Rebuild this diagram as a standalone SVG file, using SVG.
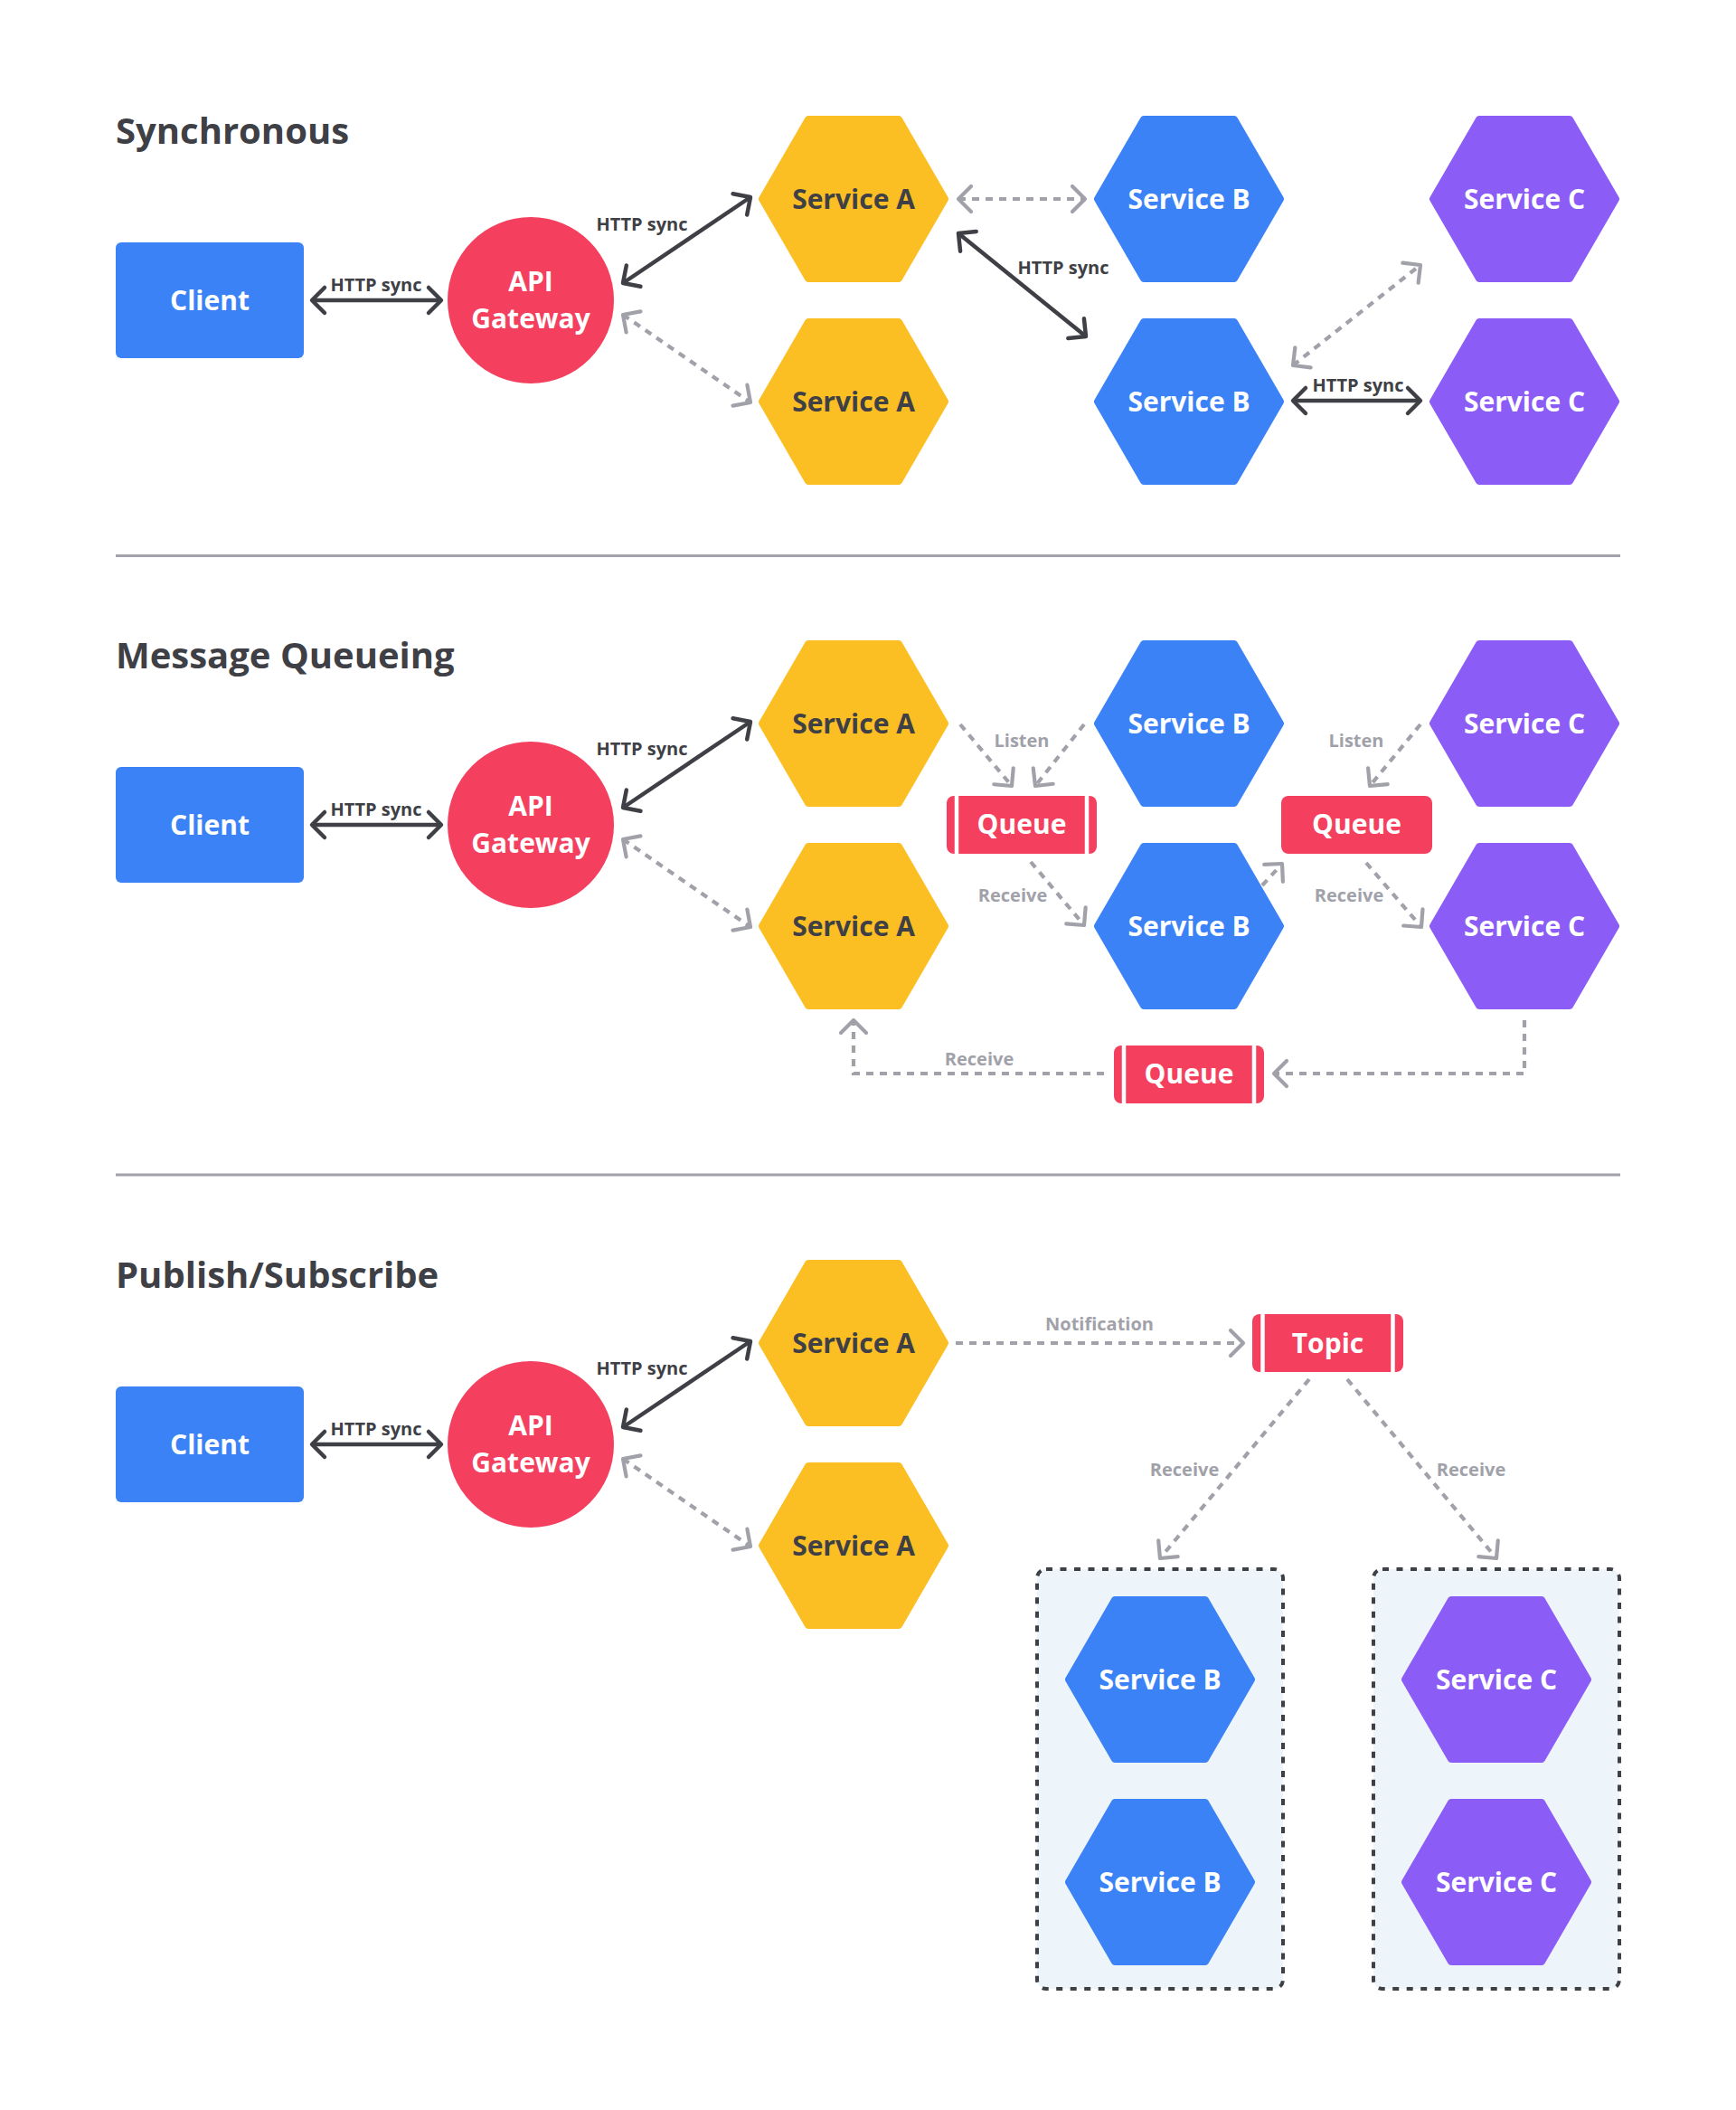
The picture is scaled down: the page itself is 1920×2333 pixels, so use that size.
<svg xmlns="http://www.w3.org/2000/svg" xmlns:xlink="http://www.w3.org/1999/xlink" width="1920" height="2333" viewBox="0 0 1920 2333">
<style>
.t{font-family:"Open Sans","Noto Sans","Liberation Sans",sans-serif;font-weight:700}
.title{font-size:40px;fill:#3f3f46}
.nl{font-size:30px;fill:#ffffff;text-anchor:middle}
.nd{fill:#3f3f46}
.lbl{font-size:20px;text-anchor:middle}
.ld{fill:#3f3f46}
.lg{fill:#a1a1aa}
.solid{stroke:#3f3f46;stroke-width:4.5;fill:none}
.dash{stroke:#a1a1aa;stroke-width:4.2;stroke-dasharray:8 7;fill:none}
.hexA{fill:#fbbf24;stroke:#fbbf24}
.hexB{fill:#3b82f6;stroke:#3b82f6}
.hexC{fill:#8b5cf6;stroke:#8b5cf6}
.hx{stroke-width:8;stroke-linejoin:round}
.blue{fill:#3b82f6}
.rose{fill:#f43f5e}
.bar{stroke:#ffffff;stroke-width:4.5}
.grp{fill:#eef5fa;stroke:#3f3f46;stroke-width:4;stroke-dasharray:7 8.5}
.div{stroke:#a1a1aa;stroke-width:3}
</style>
<defs>
<polygon id="hex" points="-101,0 -50,-88 50,-88 101,0 50,88 -50,88"/>
<marker id="ahd" viewBox="-20 -20 40 40" markerWidth="40" markerHeight="40" refX="0" refY="0" orient="auto-start-reverse" markerUnits="userSpaceOnUse" overflow="visible">
<path d="M-14,-14 L0,0 L-14,14" fill="none" stroke="#3f3f46" stroke-width="4.5" stroke-linecap="round" stroke-linejoin="round" stroke-dasharray="none"/>
</marker>
<marker id="ahg" viewBox="-20 -20 40 40" markerWidth="40" markerHeight="40" refX="0" refY="0" orient="auto-start-reverse" markerUnits="userSpaceOnUse" overflow="visible">
<path d="M-14,-14 L0,0 L-14,14" fill="none" stroke="#a1a1aa" stroke-width="4.2" stroke-linecap="round" stroke-linejoin="round" stroke-dasharray="none"/>
</marker>
</defs>
<rect width="1920" height="2333" fill="#ffffff"/>

<!-- Titles and dividers -->
<text class="t title" x="128" y="159">Synchronous</text>
<text class="t title" x="128" y="739">Message Queueing</text>
<text class="t title" x="128" y="1424">Publish/Subscribe</text>
<line class="div" x1="128" y1="614.5" x2="1792" y2="614.5"/>
<line class="div" x1="128" y1="1299" x2="1792" y2="1299"/>

<!-- Pub/Sub group containers -->
<g id="group-b">
<rect class="grp" x="1147" y="1735" width="272" height="464" rx="10"/>
</g>
<g id="group-c">
<rect class="grp" x="1519" y="1735" width="272" height="464" rx="10"/>
</g>

<!-- Connectors -->
<g id="connectors">
<!-- Section 1 -->
<line class="solid" x1="345" y1="332" x2="488" y2="332" marker-start="url(#ahd)" marker-end="url(#ahd)"/>
<line class="solid" x1="689" y1="313" x2="830" y2="218" marker-start="url(#ahd)" marker-end="url(#ahd)"/>
<line class="dash" x1="689" y1="348" x2="830" y2="445" marker-start="url(#ahg)" marker-end="url(#ahg)"/>
<line class="dash" x1="1060" y1="220" x2="1200" y2="220" marker-start="url(#ahg)" marker-end="url(#ahg)"/>
<line class="solid" x1="1060" y1="258" x2="1201" y2="372" marker-start="url(#ahd)" marker-end="url(#ahd)"/>
<line class="dash" x1="1430" y1="404" x2="1571" y2="293" marker-start="url(#ahg)" marker-end="url(#ahg)"/>
<line class="solid" x1="1430" y1="443" x2="1571" y2="443" marker-start="url(#ahd)" marker-end="url(#ahd)"/>
<!-- Section 2 -->
<line class="solid" x1="345" y1="912" x2="488" y2="912" marker-start="url(#ahd)" marker-end="url(#ahd)"/>
<line class="solid" x1="689" y1="893" x2="830" y2="798" marker-start="url(#ahd)" marker-end="url(#ahd)"/>
<line class="dash" x1="689" y1="928" x2="830" y2="1025" marker-start="url(#ahg)" marker-end="url(#ahg)"/>
<line class="dash" x1="1062" y1="801" x2="1119" y2="869" marker-end="url(#ahg)"/>
<line class="dash" x1="1199" y1="801" x2="1145" y2="869" marker-end="url(#ahg)"/>
<line class="dash" x1="1140" y1="953" x2="1199" y2="1023" marker-end="url(#ahg)"/>
<line class="dash" x1="1396" y1="979" x2="1418" y2="955" marker-end="url(#ahg)"/>
<line class="dash" x1="1571" y1="801" x2="1515" y2="869" marker-end="url(#ahg)"/>
<line class="dash" x1="1511" y1="954" x2="1572" y2="1025" marker-end="url(#ahg)"/>
<path class="dash" d="M1686,1128 V1187 H1409" marker-end="url(#ahg)"/>
<path class="dash" d="M1221,1187 H944 V1128" marker-end="url(#ahg)"/>
<!-- Section 3 -->
<line class="solid" x1="345" y1="1597" x2="488" y2="1597" marker-start="url(#ahd)" marker-end="url(#ahd)"/>
<line class="solid" x1="689" y1="1578" x2="830" y2="1483" marker-start="url(#ahd)" marker-end="url(#ahd)"/>
<line class="dash" x1="689" y1="1613" x2="830" y2="1710" marker-start="url(#ahg)" marker-end="url(#ahg)"/>
<line class="dash" x1="1057" y1="1485" x2="1375" y2="1485" marker-end="url(#ahg)"/>
<line class="dash" x1="1448" y1="1525" x2="1283" y2="1723" marker-end="url(#ahg)"/>
<line class="dash" x1="1490" y1="1525" x2="1655" y2="1723" marker-end="url(#ahg)"/>
<!-- Labels -->
<text class="t lbl ld" x="416" y="322">HTTP sync</text>
<text class="t lbl ld" x="710" y="255">HTTP sync</text>
<text class="t lbl ld" x="1176" y="303">HTTP sync</text>
<text class="t lbl ld" x="1502" y="433">HTTP sync</text>
<text class="t lbl ld" x="416" y="902">HTTP sync</text>
<text class="t lbl ld" x="710" y="835">HTTP sync</text>
<text class="t lbl lg" x="1130" y="826">Listen</text>
<text class="t lbl lg" x="1500" y="826">Listen</text>
<text class="t lbl lg" x="1120" y="997">Receive</text>
<text class="t lbl lg" x="1492" y="997">Receive</text>
<text class="t lbl lg" x="1083" y="1178">Receive</text>
<text class="t lbl ld" x="416" y="1587">HTTP sync</text>
<text class="t lbl ld" x="710" y="1520">HTTP sync</text>
<text class="t lbl lg" x="1216" y="1471">Notification</text>
<text class="t lbl lg" x="1310" y="1632">Receive</text>
<text class="t lbl lg" x="1627" y="1632">Receive</text>
</g>

<!-- Section 1 nodes -->
<g id="s1-client"><rect class="blue" x="128" y="268" width="208" height="128" rx="6"/><text class="t nl" x="232" y="343">Client</text></g>
<g id="s1-gateway"><circle class="rose" cx="587" cy="332" r="92"/><text class="t nl" x="587" y="322">API</text><text class="t nl" x="587" y="363">Gateway</text></g>
<g id="s1-service-a1"><use xlink:href="#hex" href="#hex" class="hexA hx" x="944" y="220"/><text class="t nl nd" x="944" y="230.5">Service A</text></g>
<g id="s1-service-a2"><use xlink:href="#hex" href="#hex" class="hexA hx" x="944" y="444"/><text class="t nl nd" x="944" y="454.5">Service A</text></g>
<g id="s1-service-b1"><use xlink:href="#hex" href="#hex" class="hexB hx" x="1315" y="220"/><text class="t nl" x="1315" y="230.5">Service B</text></g>
<g id="s1-service-b2"><use xlink:href="#hex" href="#hex" class="hexB hx" x="1315" y="444"/><text class="t nl" x="1315" y="454.5">Service B</text></g>
<g id="s1-service-c1"><use xlink:href="#hex" href="#hex" class="hexC hx" x="1686" y="220"/><text class="t nl" x="1686" y="230.5">Service C</text></g>
<g id="s1-service-c2"><use xlink:href="#hex" href="#hex" class="hexC hx" x="1686" y="444"/><text class="t nl" x="1686" y="454.5">Service C</text></g>

<!-- Section 2 nodes -->
<g id="s2-client"><rect class="blue" x="128" y="848" width="208" height="128" rx="6"/><text class="t nl" x="232" y="923">Client</text></g>
<g id="s2-gateway"><circle class="rose" cx="587" cy="912" r="92"/><text class="t nl" x="587" y="902">API</text><text class="t nl" x="587" y="943">Gateway</text></g>
<g id="s2-service-a1"><use xlink:href="#hex" href="#hex" class="hexA hx" x="944" y="800"/><text class="t nl nd" x="944" y="810.5">Service A</text></g>
<g id="s2-service-a2"><use xlink:href="#hex" href="#hex" class="hexA hx" x="944" y="1024"/><text class="t nl nd" x="944" y="1034.5">Service A</text></g>
<g id="s2-service-b1"><use xlink:href="#hex" href="#hex" class="hexB hx" x="1315" y="800"/><text class="t nl" x="1315" y="810.5">Service B</text></g>
<g id="s2-service-b2"><use xlink:href="#hex" href="#hex" class="hexB hx" x="1315" y="1024"/><text class="t nl" x="1315" y="1034.5">Service B</text></g>
<g id="s2-service-c1"><use xlink:href="#hex" href="#hex" class="hexC hx" x="1686" y="800"/><text class="t nl" x="1686" y="810.5">Service C</text></g>
<g id="s2-service-c2"><use xlink:href="#hex" href="#hex" class="hexC hx" x="1686" y="1024"/><text class="t nl" x="1686" y="1034.5">Service C</text></g>
<g id="s2-queue1"><rect class="rose" x="1047" y="880" width="166" height="64" rx="8"/><line class="bar" x1="1058" y1="880" x2="1058" y2="944"/><line class="bar" x1="1202" y1="880" x2="1202" y2="944"/><text class="t nl" x="1130" y="922">Queue</text></g>
<g id="s2-queue2"><rect class="rose" x="1417" y="880" width="167" height="64" rx="8"/><text class="t nl" x="1500.5" y="922">Queue</text></g>
<g id="s2-queue3"><rect class="rose" x="1232" y="1156" width="166" height="64" rx="8"/><line class="bar" x1="1243" y1="1156" x2="1243" y2="1220"/><line class="bar" x1="1387" y1="1156" x2="1387" y2="1220"/><text class="t nl" x="1315" y="1198">Queue</text></g>

<!-- Section 3 nodes -->
<g id="s3-client"><rect class="blue" x="128" y="1533" width="208" height="128" rx="6"/><text class="t nl" x="232" y="1608">Client</text></g>
<g id="s3-gateway"><circle class="rose" cx="587" cy="1597" r="92"/><text class="t nl" x="587" y="1587">API</text><text class="t nl" x="587" y="1628">Gateway</text></g>
<g id="s3-service-a1"><use xlink:href="#hex" href="#hex" class="hexA hx" x="944" y="1485"/><text class="t nl nd" x="944" y="1495.5">Service A</text></g>
<g id="s3-service-a2"><use xlink:href="#hex" href="#hex" class="hexA hx" x="944" y="1709"/><text class="t nl nd" x="944" y="1719.5">Service A</text></g>
<g id="s3-topic"><rect class="rose" x="1385" y="1453" width="167" height="64" rx="8"/><line class="bar" x1="1396.5" y1="1453" x2="1396.5" y2="1517"/><line class="bar" x1="1540.5" y1="1453" x2="1540.5" y2="1517"/><text class="t nl" x="1468.5" y="1495.5">Topic</text></g>
<g id="s3-service-b1"><use xlink:href="#hex" href="#hex" class="hexB hx" x="1283" y="1857"/><text class="t nl" x="1283" y="1867.5">Service B</text></g>
<g id="s3-service-b2"><use xlink:href="#hex" href="#hex" class="hexB hx" x="1283" y="2081"/><text class="t nl" x="1283" y="2091.5">Service B</text></g>
<g id="s3-service-c1"><use xlink:href="#hex" href="#hex" class="hexC hx" x="1655" y="1857"/><text class="t nl" x="1655" y="1867.5">Service C</text></g>
<g id="s3-service-c2"><use xlink:href="#hex" href="#hex" class="hexC hx" x="1655" y="2081"/><text class="t nl" x="1655" y="2091.5">Service C</text></g>
</svg>
